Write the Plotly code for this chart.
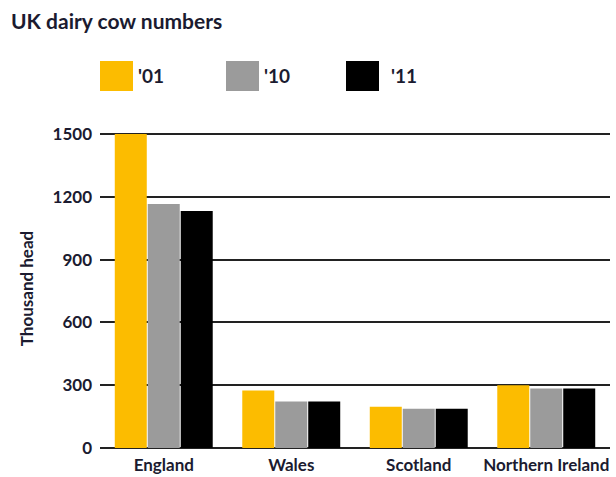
import plotly.graph_objects as go

regions = ["England", "Wales", "Scotland", "Northern Ireland"]
years = ["'01", "'10", "'11"]
values_01 = [1500, 275, 197, 300]
values_10 = [1166, 222, 187, 284]
values_11 = [1132, 222, 187, 284]
colors = ["#FCBC00", "#9B9B9B", "#000000"]
yticks = [0, 300, 600, 900, 1200, 1500]

TXT = "#1b1b30"
FONT = "Lato"

fig = go.Figure()
for name, vals, col in zip(years, [values_01, values_10, values_11], colors):
    fig.add_trace(go.Bar(x=regions, y=vals, name=name, marker=dict(color=col, line=dict(width=0)),
                         showlegend=False))

W, H = 616, 477
ml, mr, mt, mb = 100, 6, 129, 29
pw, ph = W - ml - mr, H - mt - mb
ymax = 1500 * ph / 314.0

def px_x(x):
    return (x - ml) / pw

def px_y(y):
    return (H - mb - y) / ph

shapes = []
annotations = []
legend_x = [100, 226, 346]
label_x = [136, 262, 389]
for i, (name, col) in enumerate(zip(years, colors)):
    shapes.append(dict(type="rect", xref="paper", yref="paper",
                       x0=px_x(legend_x[i]), x1=px_x(legend_x[i] + 33),
                       y0=px_y(91), y1=px_y(61),
                       fillcolor=col, line=dict(width=0)))
    annotations.append(dict(text=name, xref="paper", yref="paper",
                            x=px_x(label_x[i]), y=px_y(76), xanchor="left", yanchor="middle",
                            showarrow=False, font=dict(family=FONT, size=19, color=TXT, weight="bold")))

fig.update_layout(
    width=W, height=H,
    margin=dict(l=ml, r=mr, t=mt, b=mb, autoexpand=False),
    paper_bgcolor="white", plot_bgcolor="white",
    title=dict(text="UK dairy cow numbers", x=11 / W, xref="container", xanchor="left",
               y=1 - 22 / H, yref="container", yanchor="middle",
               font=dict(family=FONT, size=21, color=TXT, weight="bold")),
    barmode="group", bargap=0.224, bargroupgap=0.03,
    shapes=shapes, annotations=annotations,
    xaxis=dict(showgrid=False, showline=False, zeroline=False, ticks="", automargin=False,
               tickfont=dict(family=FONT, size=17, color=TXT, weight="bold"),
               ticklabelstandoff=5),
    yaxis=dict(range=[0, ymax], tickvals=yticks, showgrid=True, gridcolor="#222222", gridwidth=1.6,
               zeroline=True, zerolinecolor="#222222", zerolinewidth=1.6, showline=False, ticks="",
               automargin=False,
               tickfont=dict(family=FONT, size=17, color=TXT, weight="bold"),
               ticklabelstandoff=7,
               title=dict(text="Thousand head", standoff=14,
                          font=dict(family=FONT, size=17, color=TXT, weight="bold"))),
)

fig.write_html("out.html")
